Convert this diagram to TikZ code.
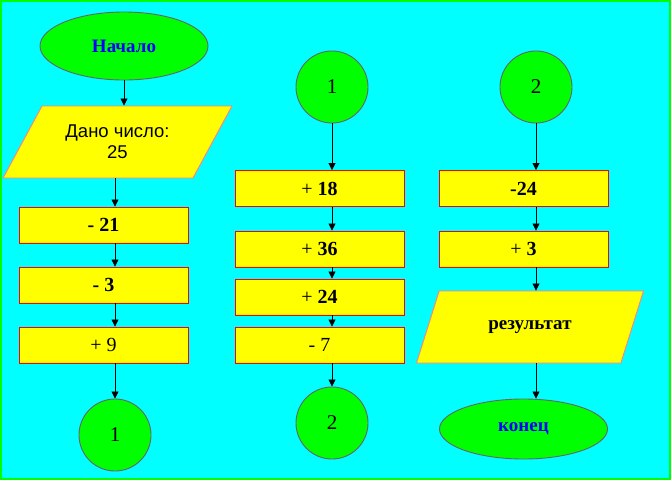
\documentclass[tikz,border=0pt]{standalone}
\usepackage{fontspec}
\setmainfont{Liberation Serif}
\newfontfamily\arialfont{Liberation Sans}
\usetikzlibrary{shapes.geometric,arrows.meta}
\definecolor{bgcyan}{HTML}{00FFFF}
\definecolor{frgreen}{HTML}{00FF00}
\definecolor{boxyellow}{HTML}{FFFF00}
\definecolor{parapink}{HTML}{FF7F7F}
\definecolor{textblue}{HTML}{0000FF}
\tikzset{
  opbox/.style={rectangle,draw=red,fill=boxyellow,line width=0.9pt,minimum width=169pt,minimum height=36pt,inner sep=0pt,font=\fontsize{20}{20}\selectfont},
  iobox/.style={trapezium,trapezium left angle=51.6,trapezium right angle=128.4,trapezium stretches=true,draw=parapink,fill=boxyellow,line width=0.9pt,inner sep=0pt},
  termbox/.style={ellipse,draw=black!60,fill=frgreen,line width=0.9pt,minimum width=168pt,inner sep=0pt,text=textblue,font=\fontsize{19}{19}\selectfont\bfseries},
  joint/.style={circle,draw=black!60,fill=frgreen,line width=0.9pt,minimum size=72pt,inner sep=0pt,font=\fontsize{21}{21}\selectfont},
  flow/.style={->,black,line width=0.8pt}
}
\begin{document}
\begin{tikzpicture}[x=1pt,y=-1pt,>={Triangle[width=7pt,length=7pt]}]
\useasboundingbox (0,0) rectangle (672,482);
%Background with green frame
\draw[frgreen,fill=bgcyan,line width=1.5pt] (1,1) rectangle (670,479);

%First column
\node[termbox,minimum height=68pt] (start) at (124,46) {Начало};
\node[iobox,minimum width=229pt,minimum height=72pt,align=center,font=\arialfont\fontsize{18.5}{21}\selectfont] (given) at (117.5,142) {Дано число:\\25};
\node[opbox] (m21) at (103.5,225) {\textbf{-~21}};
\node[opbox] (m3) at (103.5,285) {\textbf{-~3}};
\node[opbox] (p9) at (103.5,345) {+~9};
\node[joint] (jA) at (115,435) {1};

%Second column
\node[joint] (jAA) at (332,87) {1};
\node[opbox] (p18) at (319.5,188.5) {+~\textbf{18}};
\node[opbox] (p36) at (319.5,249) {+~\textbf{36}};
\node[opbox] (p24) at (319.5,297) {+~\textbf{24}};
\node[opbox] (m7) at (319.5,345) {-~7};
\node[joint] (jB) at (332,423) {2};

%Third column
\node[joint] (jBB) at (536,87) {2};
\node[opbox] (m24) at (523.5,188.5) {\textbf{-24}};
\node[opbox] (p3) at (523.5,249) {+~\textbf{3}};
\node[iobox,minimum width=227pt,minimum height=72pt,font=\fontsize{19}{19}\selectfont\bfseries] (result) at (530,327) {результат};
\node[termbox,minimum height=60pt] (stop) at (523.5,429) {конец};

%Arrows between the blocks
\draw[flow] (start) -- (given.north -| start);
\foreach \a/\b in {given/m21,m21/m3,m3/p9,p9/jA}
    \draw[flow] (\a.south -| jA) -- (\b.north -| jA);
\foreach \a/\b in {jAA/p18,p18/p36,p36/p24,p24/m7,m7/jB}
    \draw[flow] (\a.south -| jAA) -- (\b.north -| jAA);
\foreach \a/\b in {jBB/m24,m24/p3,p3/result,result/stop}
    \draw[flow] (\a.south -| jBB) -- (\b.north -| jBB);
\end{tikzpicture}
\end{document}
